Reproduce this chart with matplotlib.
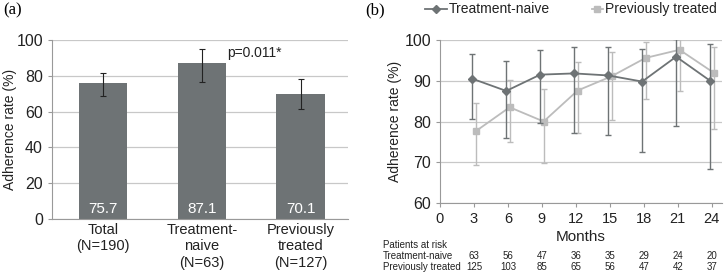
import numpy as np
import matplotlib.pyplot as plt
from matplotlib.lines import Line2D
from matplotlib.transforms import blended_transform_factory

plt.rcParams['font.family'] = ['Liberation Sans', 'DejaVu Sans']

# panel (a) data
groups = ["Total\n(N=190)", "Treatment-\nnaive\n(N=63)", "Previously\ntreated\n(N=127)"]
rates = [75.7, 87.1, 70.1]
err_lo = [68.9, 76.4, 61.3]
err_hi = [81.6, 94.7, 78.0]

# panel (b) data
months = [3, 6, 9, 12, 15, 18, 21, 24]
naive = [90.5, 87.5, 91.5, 91.8, 91.3, 89.8, 95.9, 90.0]
naive_lo = [80.5, 75.9, 79.6, 77.3, 76.8, 72.5, 79.0, 68.3]
naive_hi = [96.5, 94.8, 97.6, 98.3, 98.3, 97.8, 100.2, 98.9]
prev = [77.6, 83.5, 80.0, 87.6, 91.1, 95.6, 97.6, 92.0]
prev_lo = [69.3, 74.9, 69.8, 77.1, 80.4, 85.5, 87.4, 78.2]
prev_hi = [84.6, 90.1, 87.9, 94.5, 97.0, 99.5, 100.5, 98.4]
risk_naive = [63, 56, 47, 36, 35, 29, 24, 20]
risk_prev = [125, 103, 85, 65, 56, 47, 42, 37]

dark = "#6e7375"
light = "#bcbcbc"
grid_c = "#c8c8c8"
txt = "#222222"

W, H = 724, 274
fig = plt.figure(figsize=(7.24, 2.74), dpi=100)

def px(x0, y0, x1, y1):
    return [x0 / W, 1 - y1 / H, (x1 - x0) / W, (y1 - y0) / H]

# ---- (a) bar chart
ax1 = fig.add_axes(px(52, 40, 348, 219))
x = np.arange(len(groups))
yerr = [np.array(rates) - np.array(err_lo), np.array(err_hi) - np.array(rates)]
ax1.bar(x, rates, width=0.49, color=dark, zorder=2)
ax1.errorbar(x, rates, yerr=yerr, fmt="none", ecolor=txt, elinewidth=0.8, capsize=2, capthick=0.8, zorder=3)
for xi, r in zip(x, rates):
    ax1.text(xi, 5.5, f"{r}", color="white", ha="center", va="center", fontsize=11, zorder=4)
ax1.text(1.53, 92.5, "p=0.011*", ha="center", va="center", fontsize=10, color=txt)
ax1.set_xlim(-0.52, 2.48)
ax1.set_ylim(0, 100)
ax1.set_yticks(range(0, 101, 20))
ax1.set_xticks(x)
ax1.set_xticklabels(groups, fontsize=10.5, color=txt)
ax1.set_ylabel("Adherence rate (%)", fontsize=10, color=txt)
ax1.yaxis.set_label_coords(-0.118, 0.5)
ax1.yaxis.grid(True, color=grid_c, linewidth=0.9, zorder=0)
for s in ["top", "right"]:
    ax1.spines[s].set_visible(False)
ax1.spines["left"].set_color("#999999")
ax1.spines["bottom"].set_color("#999999")
ax1.tick_params(axis="y", labelsize=11.5, colors="#999999", labelcolor=txt, length=3)
ax1.tick_params(axis="x", length=0, pad=3)

# ---- (b) line chart
ax2 = fig.add_axes(px(440, 40, 722, 203))
m = np.array(months)
off = 0.15
ax2.errorbar(m - off, naive, yerr=[np.array(naive) - np.array(naive_lo), np.array(naive_hi) - np.array(naive)],
             color=dark, marker="D", markersize=4, linewidth=1.3, elinewidth=1.0, capsize=2, zorder=3)
ax2.errorbar(m + off, prev, yerr=[np.array(prev) - np.array(prev_lo), np.array(prev_hi) - np.array(prev)],
             color=light, marker="s", markersize=5, linewidth=1.3, elinewidth=1.0, capsize=2, zorder=2)
ax2.set_xlim(0, 24.9)
ax2.set_ylim(60, 100)
ax2.set_xticks(range(0, 25, 3))
ax2.set_yticks(range(60, 101, 10))
ax2.yaxis.grid(True, color=grid_c, linewidth=0.9, zorder=0)
for s in ["top", "right"]:
    ax2.spines[s].set_visible(False)
ax2.spines["left"].set_color("#999999")
ax2.spines["bottom"].set_color("#999999")
ax2.tick_params(axis="y", labelsize=11.5, colors="#999999", labelcolor=txt, length=3)
ax2.tick_params(axis="x", labelsize=10.5, colors="#999999", labelcolor=txt, length=3)
ax2.set_ylabel("Adherence rate (%)", fontsize=10, color=txt)
ax2.yaxis.set_label_coords(-0.135, 0.5)
ax2.set_xlabel("Months", fontsize=11, color=txt, labelpad=3)

# risk table
tr = blended_transform_factory(ax2.transData, fig.transFigure)
fig.text(383 / W, 1 - 245 / H, "Patients at risk", fontsize=7, va="center", color=txt)
fig.text(383 / W, 1 - 256 / H, "Treatment-naive", fontsize=7, va="center", color=txt)
fig.text(383 / W, 1 - 267 / H, "Previously treated", fontsize=7, va="center", color=txt)
for mi, a, b in zip(months, risk_naive, risk_prev):
    ax2.text(mi, 1 - 256 / H, str(a), transform=tr, fontsize=7, ha="center", va="center", color=txt)
    ax2.text(mi, 1 - 267 / H, str(b), transform=tr, fontsize=7, ha="center", va="center", color=txt)

# legend drawn by hand
ly = 1 - 9 / H
fig.add_artist(Line2D([425 / W, 447 / W], [ly, ly], color=dark, linewidth=1.3))
fig.add_artist(Line2D([436 / W], [ly], color=dark, marker="D", markersize=4))
fig.text(449 / W, ly, "Treatment-naive", fontsize=10, va="center", color=txt)
fig.add_artist(Line2D([592 / W, 603 / W], [ly, ly], color=light, linewidth=1.3))
fig.add_artist(Line2D([597 / W], [ly], color=light, marker="s", markersize=5))
fig.text(605 / W, ly, "Previously treated", fontsize=10, va="center", color=txt)

# panel letters
fig.text(3 / W, 1 - 10 / H, "(a)", fontsize=12, family="Liberation Serif", va="center")
fig.text(365 / W, 1 - 10 / H, "(b)", fontsize=12, family="Liberation Serif", va="center")

fig.savefig("out.png", dpi=100)
